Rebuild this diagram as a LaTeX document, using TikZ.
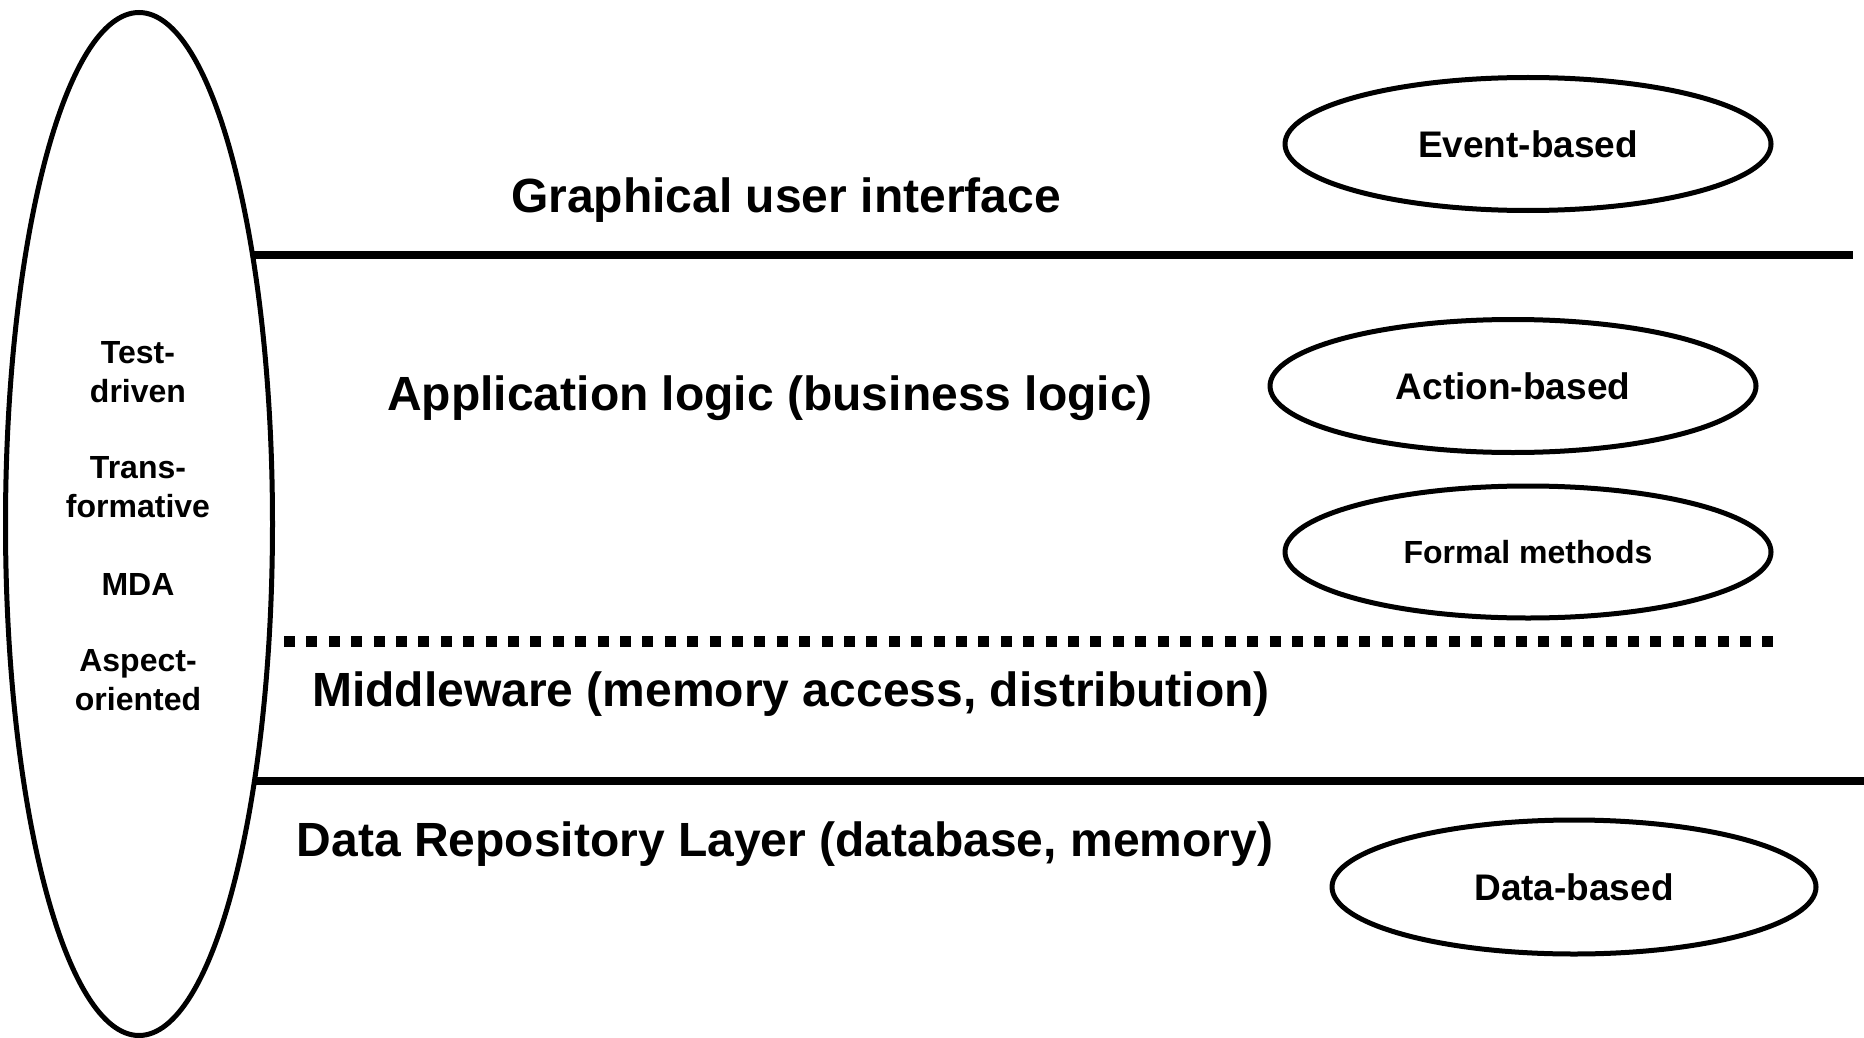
\documentclass[tikz,border=0pt]{standalone}
\usepackage{fontspec}
\setmainfont{Liberation Sans}
\usetikzlibrary{shapes.geometric}

\tikzset{
  layerrule/.style={line width=3.7pt, line cap=butt},
  dotrule/.style={line width=5.5pt, line cap=butt, dash pattern=on 5.5pt off 5.7pt},
  oval/.style={draw, ellipse, line width=2.5pt, inner sep=0pt,
               minimum width=243pt, minimum height=66.5pt},
  layertext/.style={anchor=base, inner sep=0pt,
                    font=\bfseries\fontsize{24}{28.8}\selectfont},
  ovaltext/.style={font=\bfseries\fontsize{18.5}{22}\selectfont},
  smalltext/.style={font=\bfseries\fontsize{16}{19.5}\selectfont},
  methodtext/.style={align=center, inner sep=0pt,
                     font=\bfseries\fontsize{16}{19.5}\selectfont}
}

\begin{document}
\begin{tikzpicture}[x=0.5pt, y=-0.5pt]
\useasboundingbox (0,0) rectangle (1864,1038);

% development approaches spanning all layers
\node[draw, ellipse, line width=2.5pt, inner sep=0pt,
      minimum width=133.5pt, minimum height=511.5pt] (approaches) at (139,524) {};
\node[methodtext] (testdriven) at (138,372) {Test-\\driven};
\node[methodtext] (transform)  at (138,487) {Trans-\\formative};
\node[methodtext] (mda)        at (138,584) {MDA};
\node[methodtext] (aspect)     at (138,680) {Aspect-\\oriented};

% layer boundaries
\coordinate (guiL)  at (254,255);
\coordinate (guiR)  at (1853,255);
\coordinate (midL)  at (284,641);
\coordinate (midR)  at (1773,641);
\coordinate (dataL) at (255,781);
\coordinate (dataR) at (1864,781);
\draw[layerrule] (guiL) -- (guiR);
\draw[dotrule] (midL) -- (midR);
\draw[layerrule] (dataL) -- (dataR);

% layer names
\node[layertext] (gui)  at (786,213) {Graphical user interface};
\node[layertext] (app)  at (770,410) {Application logic (business logic)};
\node[layertext] (mid)  at (791,706) {Middleware (memory access, distribution)};
\node[layertext] (repo) at (785,856) {Data Repository Layer (database, memory)};

% approaches per layer
\node[oval, ovaltext] (event)  at (1528,144) {Event-based};
\node[oval, ovaltext] (action) at (1513,386) {Action-based};
\node[oval, smalltext, minimum height=66pt] (formal) at (1528,552) {Formal methods};
\node[oval, ovaltext, minimum width=242pt, minimum height=67pt] (data) at (1574,887) {Data-based};
\end{tikzpicture}
\end{document}
